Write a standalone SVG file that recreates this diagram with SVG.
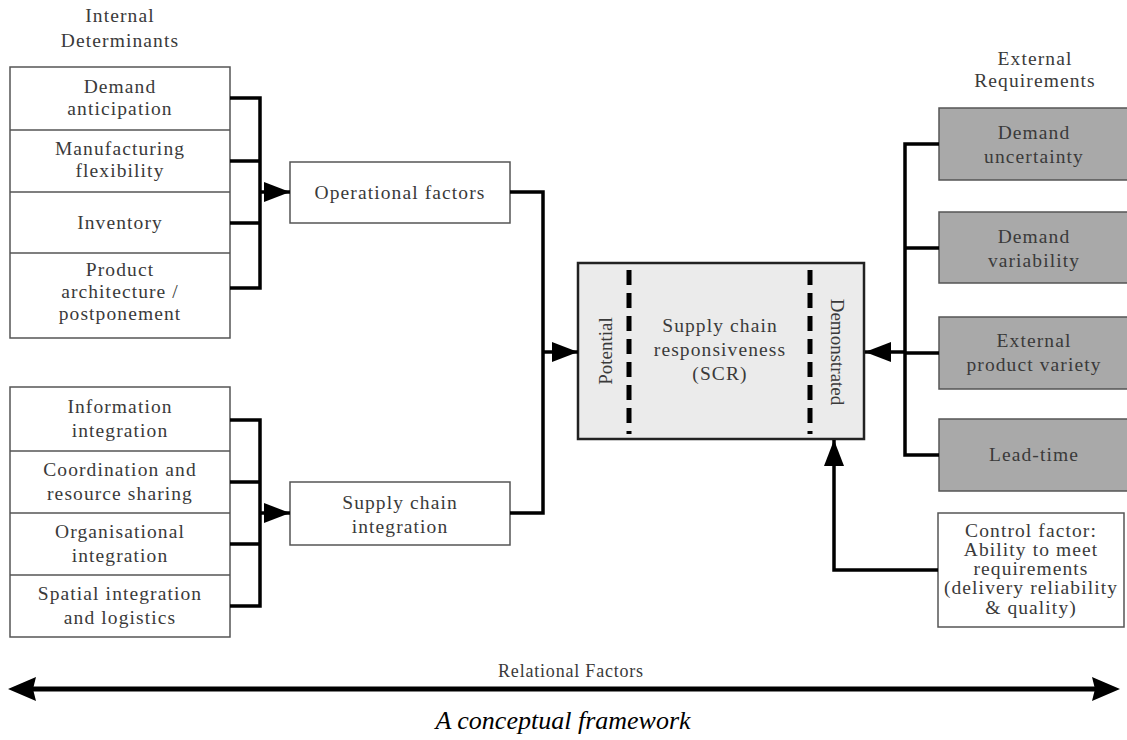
<svg xmlns="http://www.w3.org/2000/svg" width="1127" height="740" viewBox="0 0 1127 740">
<style>
text{font-family:"Liberation Serif","Times New Roman",serif;font-size:19.5px;letter-spacing:1.1px;fill:#3a3a3a;text-anchor:middle}
.box{fill:#fff;stroke:#555;stroke-width:1.5}
.gray{fill:#a9a9a9;stroke:#555;stroke-width:1.5}
.ln{fill:none;stroke:#000;stroke-width:3.5}
.dash{stroke:#000;stroke-width:5;stroke-dasharray:15 8}
.rot{font-size:19px;letter-spacing:0}
</style>
<defs>
<marker id="ah" viewBox="0 0 26 20" refX="26" refY="10" markerWidth="26" markerHeight="20" markerUnits="userSpaceOnUse" orient="auto">
<path d="M0,0 L26,10 L0,20 z" fill="#000"/>
</marker>
</defs>
<rect width="1127" height="740" fill="#fff"/>

<g id="header-internal">
<text x="120" y="22">Internal</text>
<text x="120" y="47">Determinants</text>
</g>
<g id="header-external">
<text x="1035" y="65">External</text>
<text x="1035" y="87">Requirements</text>
</g>

<g id="internal-stack">
<rect class="box" x="10" y="67" width="220" height="271"/>
<line class="box" x1="10" y1="130" x2="230" y2="130"/>
<line class="box" x1="10" y1="192" x2="230" y2="192"/>
<line class="box" x1="10" y1="253" x2="230" y2="253"/>
<text x="120" y="93">Demand</text><text x="120" y="115">anticipation</text>
<text x="120" y="155">Manufacturing</text><text x="120" y="177">flexibility</text>
<text x="120" y="229">Inventory</text>
<text x="120" y="276">Product</text><text x="120" y="298">architecture /</text><text x="120" y="320">postponement</text>
</g>

<g id="integration-stack">
<rect class="box" x="10" y="387" width="220" height="250"/>
<line class="box" x1="10" y1="451" x2="230" y2="451"/>
<line class="box" x1="10" y1="513" x2="230" y2="513"/>
<line class="box" x1="10" y1="575" x2="230" y2="575"/>
<text x="120" y="413">Information</text><text x="120" y="437">integration</text>
<text x="120" y="476">Coordination and</text><text x="120" y="500">resource sharing</text>
<text x="120" y="538">Organisational</text><text x="120" y="562">integration</text>
<text x="120" y="600">Spatial integration</text><text x="120" y="624">and logistics</text>
</g>

<g id="operational">
<rect class="box" x="290" y="162" width="220" height="61"/>
<text x="400" y="199">Operational factors</text>
</g>
<g id="sci">
<rect class="box" x="290" y="482" width="220" height="63"/>
<text x="400" y="509">Supply chain</text><text x="400" y="533">integration</text>
</g>

<g id="scr">
<rect x="578" y="263" width="286" height="176" fill="#ebebeb" stroke="#222" stroke-width="2.5"/>
<line class="dash" x1="629" y1="270" x2="629" y2="434"/>
<line class="dash" x1="810" y1="270" x2="810" y2="434"/>
<text x="720" y="332">Supply chain</text>
<text x="720" y="356">responsiveness</text>
<text x="720" y="380">(SCR)</text>
<text class="rot" transform="translate(612,351) rotate(-90)">Potential</text>
<text class="rot" transform="translate(831,352) rotate(90)">Demonstrated</text>
</g>

<g id="ext-boxes">
<rect class="gray" x="939" y="108" width="190" height="72"/>
<text x="1034" y="139">Demand</text><text x="1034" y="163">uncertainty</text>
<rect class="gray" x="939" y="212" width="190" height="71"/>
<text x="1034" y="243">Demand</text><text x="1034" y="267">variability</text>
<rect class="gray" x="939" y="317" width="190" height="72"/>
<text x="1034" y="347">External</text><text x="1034" y="371">product variety</text>
<rect class="gray" x="939" y="419" width="190" height="72"/>
<text x="1034" y="461">Lead-time</text>
</g>

<g id="control">
<rect class="box" x="938" y="513" width="186" height="114"/>
<text x="1031" y="537">Control factor:</text>
<text x="1031" y="556">Ability to meet</text>
<text x="1031" y="575">requirements</text>
<text x="1031" y="594">(delivery reliability</text>
<text x="1031" y="614">&amp; quality)</text>
</g>

<g id="connectors">
<path class="ln" d="M230,98 H260 M230,161 H260 M230,223 H260 M230,288 H260 M260,96.3 V289.7"/>
<path class="ln" d="M260,192 H290" marker-end="url(#ah)"/>
<path class="ln" d="M230,420 H260 M230,482 H260 M230,544 H260 M230,606 H260 M260,418.3 V607.7"/>
<path class="ln" d="M260,513 H290" marker-end="url(#ah)"/>
<path class="ln" d="M510,192 H543 V513 H510"/>
<path class="ln" d="M543,352 H578" marker-end="url(#ah)"/>
<path class="ln" d="M939,144 H905 V455 H939 M905,248 H939 M905,353 H939"/>
<path class="ln" d="M905,352 H865" marker-end="url(#ah)"/>
<path class="ln" d="M938,570 H834 V440" marker-end="url(#ah)"/>
</g>

<g id="relational">
<text x="571" y="677" style="font-size:18px;letter-spacing:0.8px">Relational Factors</text>
<line x1="25" y1="689" x2="1102" y2="689" stroke="#000" stroke-width="5"/>
<path d="M8,689 L36,677 L33,689 L36,701 z M1120,689 L1092,677 L1095,689 L1092,701 z" fill="#000"/>
</g>

<text x="563" y="729" style="font-size:26px;font-style:italic;letter-spacing:0;fill:#000">A conceptual framework</text>
</svg>
